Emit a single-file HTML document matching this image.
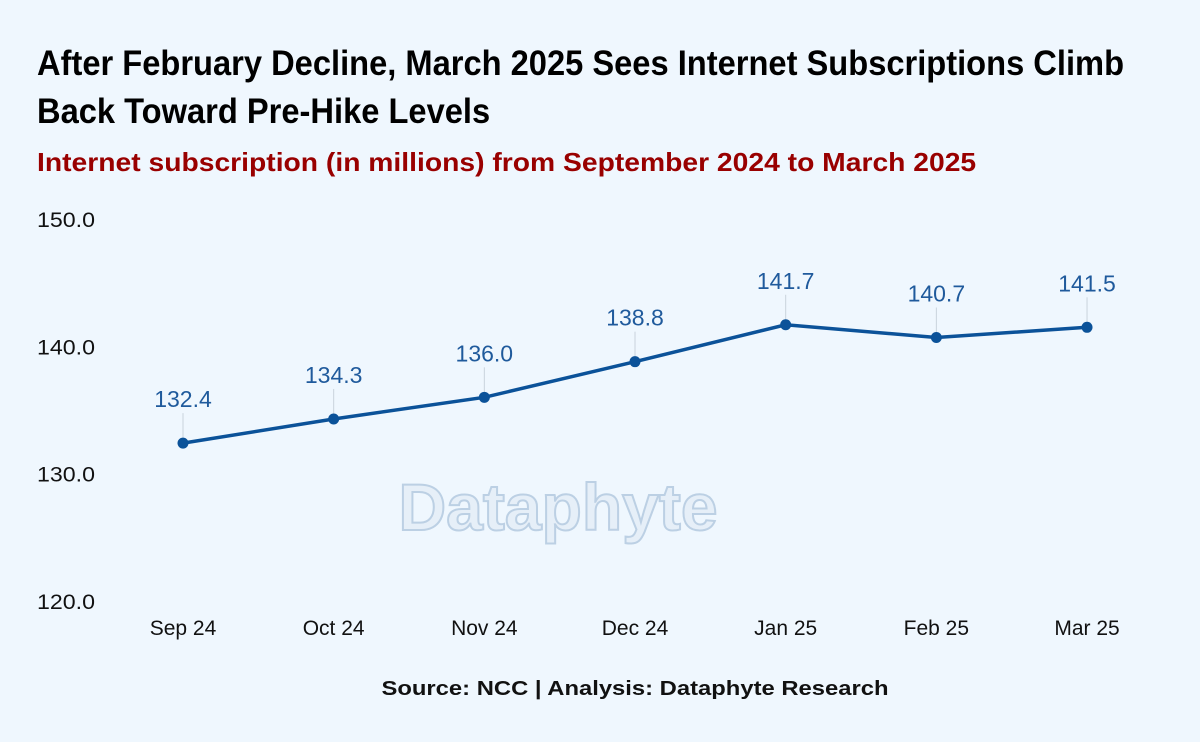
<!DOCTYPE html>
<html><head><meta charset="utf-8"><style>
body{margin:0;background:#eff7fe;}
#wrap{position:relative;width:1200px;height:742px;background:#eff7fe;overflow:hidden;font-family:"Liberation Sans",sans-serif;}
.title{position:absolute;left:37px;top:40px;font-weight:bold;font-size:35px;line-height:48px;color:#000;transform:scaleX(0.933);transform-origin:0 0;white-space:nowrap;}
.sub{position:absolute;left:37px;top:147px;font-weight:bold;font-size:26px;color:#990000;transform:scaleX(1.087);transform-origin:0 0;white-space:nowrap;}
.src{position:absolute;left:635px;top:678px;font-weight:bold;font-size:20px;color:#111;transform:translateX(-50%) scaleX(1.19);white-space:nowrap;}
</style></head><body>
<div id="wrap">
<div class="title">After February Decline, March 2025 Sees Internet Subscriptions Climb<br>Back Toward Pre-Hike Levels</div>
<div class="sub">Internet subscription (in millions) from September 2024 to March 2025</div>
<svg id="svg" width="1200" height="742" style="position:absolute;left:0;top:0">
<text x="558" y="530" text-anchor="middle" font-family="Liberation Sans,sans-serif" font-weight="bold" font-size="66" fill="#e6eff8" stroke="#bcd0e4" stroke-width="2">Dataphyte</text>
</svg>
<div class="src">Source: NCC | Analysis: Dataphyte Research</div>
</div>
<script>
const categories=["Sep 24","Oct 24","Nov 24","Dec 24","Jan 25","Feb 25","Mar 25"];
const values=[132.4,134.3,136.0,138.8,141.7,140.7,141.5];
const yTicks=[120,130,140,150];
const svg=document.getElementById('svg');const NS='http://www.w3.org/2000/svg';
const x=i=>183+i*150.67;
const y=v=>601-(v-120)*12.73;
function mk(t,a){const e=document.createElementNS(NS,t);for(const k in a)e.setAttribute(k,a[k]);svg.appendChild(e);return e;}
yTicks.forEach(t=>{const e=mk('text',{x:37,y:y(t)+8,'font-size':21,fill:'#111','font-family':'Liberation Sans,sans-serif',textLength:58,lengthAdjust:'spacingAndGlyphs'});e.textContent=t.toFixed(1);

});
categories.forEach((c,i)=>{const e=mk('text',{x:x(i),y:635,'font-size':21,fill:'#111','text-anchor':'middle','font-family':'Liberation Sans,sans-serif'});e.textContent=c;

});
values.forEach((v,i)=>{const l=mk('line',{x1:x(i),x2:x(i),y1:y(v)-30,y2:y(v),stroke:'#c9d3dc','stroke-width':1});

});
const p=mk('polyline',{points:values.map((v,i)=>x(i)+','+y(v)).join(' '),fill:'none',stroke:'#0b5299','stroke-width':3.5});


values.forEach((v,i)=>{const c=mk('circle',{cx:x(i),cy:y(v),r:5.5,fill:'#0b5299'});


const t=mk('text',{x:x(i),y:y(v)-36,'font-size':23,fill:'#1f5a9c','text-anchor':'middle','font-family':'Liberation Sans,sans-serif'});t.textContent=v.toFixed(1);

});
</script>
</body></html>
